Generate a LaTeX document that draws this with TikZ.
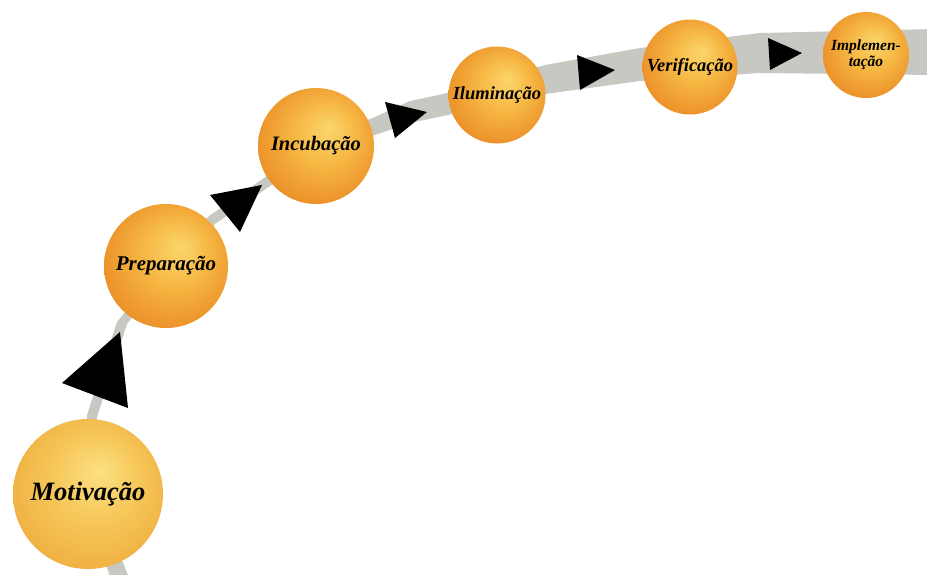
\documentclass[tikz,border=0pt]{standalone}
\usepackage{fontspec}
\setmainfont{Liberation Serif}
\definecolor{orbhl}{RGB}{251,214,108}
\definecolor{orbmid}{RGB}{246,182,66}
\definecolor{orbedge}{RGB}{234,140,38}
\definecolor{motivhl}{RGB}{251,224,130}
\definecolor{motivmid}{RGB}{246,198,88}
\definecolor{motivedge}{RGB}{238,170,60}
\definecolor{bandgray}{RGB}{200,200,194}
\pgfdeclareradialshading{orbshade}{\pgfpoint{6bp}{8bp}}{color(0bp)=(orbhl); color(14bp)=(orbmid); color(30bp)=(orbedge); color(40bp)=(orbedge)}
\pgfdeclareradialshading{motivshade}{\pgfpoint{4bp}{8bp}}{color(0bp)=(motivhl); color(15bp)=(motivmid); color(32bp)=(motivedge); color(40bp)=(motivedge)}
\begin{document}
\begin{tikzpicture}[x=1pt,y=-1pt,
  orb/.style={circle, inner sep=0pt, shade, shading=orbshade, text=black, align=center},
  motivorb/.style={orb, shading=motivshade},
  tip/.style={fill=black},
  band/.style={fill=bandgray}]
\useasboundingbox (0,0) rectangle (927,574);
\fill[white] (0,0) rectangle (927,574);
\begin{scope}
\clip (0,0) rectangle (927,574);
\path[band] (111,580) -- (84,494) -- (87,415) -- (117,322) -- (162,266) -- (209,216) -- (264,178)
  -- (318,140) -- (375,117) -- (410,101) -- (443,94) -- (545,65) -- (640,48) -- (760,33) -- (935,29)
  -- (935,75) -- (760,73) -- (640,81) -- (545,94) -- (443,116) -- (410,123) -- (375,135)
  -- (320,152) -- (270,186) -- (215,224) -- (170,270) -- (127,324) -- (97,417) -- (95,494) -- (130,580) -- cycle;
\end{scope}
% arrow heads
\coordinate (t1a) at (120,332); \coordinate (t1b) at (62,383); \coordinate (t1c) at (128,408);
\coordinate (t2a) at (262,185); \coordinate (t2b) at (210,195); \coordinate (t2c) at (240,232);
\coordinate (t3a) at (427,112); \coordinate (t3b) at (385,102); \coordinate (t3c) at (395,138);
\coordinate (t4a) at (615,70);  \coordinate (t4b) at (577,55);  \coordinate (t4c) at (580,90);
\coordinate (t5a) at (802,53);  \coordinate (t5b) at (768,38);  \coordinate (t5c) at (770,70);
\fill[tip] (t1a) -- (t1b) -- (t1c) -- cycle;
\fill[tip] (t2a) -- (t2b) -- (t2c) -- cycle;
\fill[tip] (t3a) -- (t3b) -- (t3c) -- cycle;
\fill[tip] (t4a) -- (t4b) -- (t4c) -- cycle;
\fill[tip] (t5a) -- (t5b) -- (t5c) -- cycle;
% spheres
\node[motivorb, minimum size=150pt, font=\fontsize{26.5}{28}\selectfont\bfseries\itshape] (mot) at (88,494) {Motivação};
\node[orb, minimum size=124pt, font=\fontsize{21}{23}\selectfont\bfseries\itshape] (prep) at (166,266) {Preparação};
\node[orb, minimum size=116pt, font=\fontsize{20.5}{22}\selectfont\bfseries\itshape] (inc) at (316,146) {Incubação};
\node[orb, minimum size=97pt, font=\fontsize{18.5}{20}\selectfont\bfseries\itshape] (ilu) at (497,95) {Iluminação};
\node[orb, minimum size=95pt, font=\fontsize{18.5}{20}\selectfont\bfseries\itshape] (ver) at (690,67) {Verificação};
\node[orb, minimum size=86pt, font=\fontsize{15.5}{15.5}\selectfont\bfseries\itshape] (imp) at (866,55) {Implemen-\\tação};
\end{tikzpicture}
\end{document}
